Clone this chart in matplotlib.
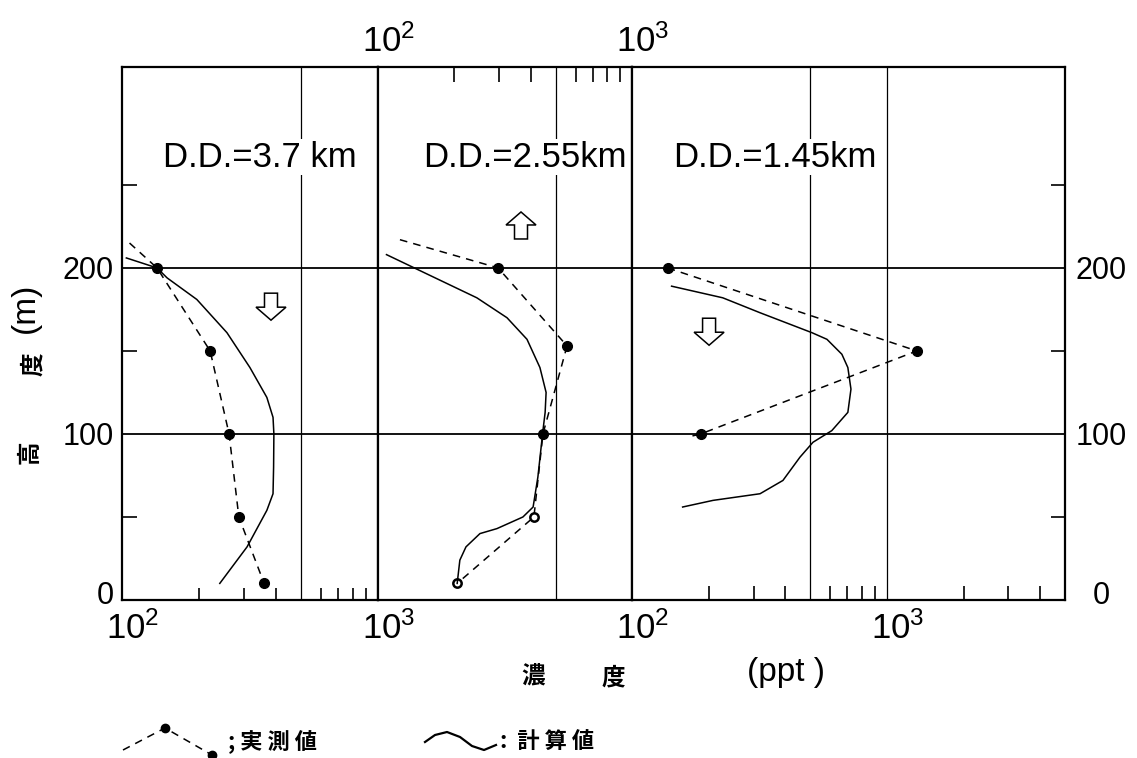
import numpy as np
import matplotlib.pyplot as plt
import matplotlib.transforms as mtransforms
from matplotlib.patches import Polygon
from matplotlib.ticker import FixedLocator, NullFormatter, NullLocator

plt.rcParams['font.family'] = ['Liberation Sans', 'Noto Sans CJK JP']
JP = ['Noto Sans CJK JP', 'DejaVu Sans']

# D.D.=3.7km  (concentration ppt, height m)
l_obs_c = [137, 221, 262, 286, 359]
l_obs_h = [200, 150, 100, 50, 10]
l_ext = (107, 215)          # dashed line runs on past the top point
l_calc_c = [104, 137, 150, 196, 257, 316, 368, 389, 392, 391, 389, 368, 308, 241]
l_calc_h = [206, 200, 194, 181, 161, 140, 122, 110, 100, 80, 64, 54, 32, 10]

# D.D.=2.55km
m_obs_c = [297, 555, 446, 411, 205]
m_obs_h = [200, 153, 100, 50, 10]
m_ext = (122, 217)
m_calc_c = [108, 245, 322, 386, 434, 459, 455, 446, 426, 408, 372, 294, 252, 222, 210, 205]
m_calc_h = [208, 182, 170, 157, 140, 125, 113, 102, 74, 56, 50, 43, 40, 32, 24, 10]

# D.D.=1.45km
r_obs_c = [138, 1311, 186]
r_obs_h = [200, 150, 100]
r_ext = (164, 98)
r_calc_c = [143, 227, 318, 508, 582, 666, 703, 723, 703, 608, 513, 456, 391, 318, 208, 158]
r_calc_h = [189, 182, 173, 161, 157, 148, 140, 127, 113, 102, 95, 86, 72, 64, 60, 56]

titles = ['D.D.=3.7 km', 'D.D.=2.55km', 'D.D.=1.45km']
dec_labels = [r'$\mathregular{10^2}$', r'$\mathregular{10^3}$']
minor_a = [200, 300, 400, 600, 700, 800, 900]
minor_b = minor_a + [2000, 3000, 4000]

W, H = 1137, 758
fig = plt.figure(figsize=(W / 100, H / 100), dpi=100)

def box(x0, x1):
    return [x0 / W, (H - 600) / H, (x1 - x0) / W, 533 / H]

ax1 = fig.add_axes(box(122, 378))
ax2 = fig.add_axes(box(378, 632))
ax3 = fig.add_axes(box(632, 1065))

def setup(ax, xmax, vlines):
    ax.set_xscale('log')
    ax.set_xlim(100, xmax)
    ax.set_ylim(0, 321)
    for s in ax.spines.values():
        s.set_linewidth(1.6)
    ax.xaxis.set_major_locator(FixedLocator([100, 1000]))
    ax.xaxis.set_minor_locator(NullLocator())
    ax.xaxis.set_minor_formatter(NullFormatter())
    ax.set_xticklabels(dec_labels)
    ax.yaxis.set_major_locator(FixedLocator([0, 100, 200]))
    ax.yaxis.set_minor_locator(FixedLocator([50, 150, 250]))
    ax.tick_params(which='both', direction='in', width=1.2, color='k')
    ax.tick_params(axis='x', which='major', length=0, labelsize=25)
    ax.tick_params(axis='y', which='major', length=0, labelsize=22)
    ax.tick_params(axis='y', which='minor', length=11,
                   left=False, right=False)
    ax.tick_params(axis='y', which='major', labelleft=False, labelright=False)
    for v in vlines:
        ax.axvline(v, color='k', lw=0.9)
    for h in [100, 200]:
        ax.axhline(h, color='k', lw=1.3)

setup(ax1, 1000, [500])
setup(ax2, 1000, [500])
setup(ax3, 5000, [500, 1000])

# left panel: bottom labels, left y axis
ax1.xaxis.set_minor_locator(FixedLocator(minor_a))
ax1.tick_params(axis='x', which='major', pad=8)
ax1.tick_params(axis='x', which='minor', length=9, top=False)
ax1.tick_params(axis='y', which='major', labelleft=True, pad=6)
ax1.tick_params(axis='y', which='minor', left=True)

# middle panel: top labels only
ax2.xaxis.tick_top()
ax2.xaxis.set_minor_locator(FixedLocator(minor_a))
ax2.tick_params(axis='x', which='major', pad=6, labeltop=True, labelbottom=False)
ax2.tick_params(axis='x', which='minor', length=11, top=True, bottom=False)

# right panel: bottom labels, right y axis
ax3.xaxis.set_minor_locator(FixedLocator(minor_b))
ax3.tick_params(axis='x', which='major', pad=8)
ax3.tick_params(axis='x', which='minor', length=10, top=False)
ax3.tick_params(axis='y', which='major', labelright=True, pad=26)
ax3.tick_params(axis='y', which='minor', right=True, length=10)
for t in ax3.get_yticklabels():
    t.set_horizontalalignment('center')

# the scan prints "10" centred on the tick, exponent to the right
shift_x = mtransforms.ScaledTranslation(0.11, 0, fig.dpi_scale_trans)
for ax in (ax1, ax2, ax3):
    for t in ax.get_xticklabels():
        t.set_transform(t.get_transform() + shift_x)
# the zero labels sit a little higher
shift_up = mtransforms.ScaledTranslation(0, 0.08, fig.dpi_scale_trans)
for ax in (ax1, ax3):
    t = ax.get_yticklabels()[0]
    t.set_transform(t.get_transform() + shift_up)

dash = dict(color='k', lw=1.1, dashes=(5, 4))
solid = dict(color='k', lw=1.1)
dot = dict(color='k', marker='o', ms=7, ls='none')

ax1.plot([l_ext[0]] + l_obs_c, [l_ext[1]] + l_obs_h, **dash)
ax1.plot(l_obs_c, l_obs_h, **dot)
ax1.plot(l_calc_c, l_calc_h, **solid)

ax2.plot([m_ext[0]] + m_obs_c, [m_ext[1]] + m_obs_h, **dash)
ax2.plot(m_obs_c[:3], m_obs_h[:3], **dot)
ax2.plot(m_obs_c[3:], m_obs_h[3:], color='k', marker='o', ms=6, mfc='white',
         mew=1.8, ls='none')
ax2.plot(m_calc_c, m_calc_h, **solid)

ax3.plot(r_obs_c + [r_ext[0]], r_obs_h + [r_ext[1]], **dash)
ax3.plot(r_obs_c, r_obs_h, **dot)
ax3.plot(r_calc_c, r_calc_h, **solid)

# D.D. labels (white box cuts the grid line)
for ax, xf, txt in zip([ax1, ax2, ax3], [0.539, 0.579, 0.329], titles):
    ax.text(xf, 0.831, txt, transform=ax.transAxes, ha='center', va='center',
            fontsize=25, zorder=5,
            bbox=dict(fc='white', ec='none', pad=1))

# open block arrows
def block_arrow(ax, xf, yf, up):
    s = -1 if up else 1
    v = [(0, 0), (0.15, 0.13), (0.065, 0.13), (0.065, 0.27),
         (-0.065, 0.27), (-0.065, 0.13), (-0.15, 0.13)]
    v = [(a, s * b) for a, b in v]
    tr = fig.dpi_scale_trans + mtransforms.ScaledTranslation(xf, yf, ax.transAxes)
    ax.add_patch(Polygon(v, closed=True, fc='white', ec='k', lw=1.1,
                         transform=tr, clip_on=False, zorder=6))

block_arrow(ax1, 0.582, 0.525, False)
block_arrow(ax2, 0.563, 0.728, True)
block_arrow(ax3, 0.178, 0.478, False)

# axis labels and legend on a pixel-coordinate overlay
ann = fig.add_axes([0, 0, 1, 1])
ann.set_xlim(0, W)
ann.set_ylim(H, 0)
ann.axis('off')
ann.patch.set_visible(False)

ann.text(30, 452, '高', family=JP, fontsize=17, fontweight='bold',
         rotation=90, ha='center', va='center')
ann.text(33, 364, '度', family=JP, fontsize=17, fontweight='bold',
         rotation=90, ha='center', va='center')
ann.text(25, 308, '(m)', fontsize=24, rotation=90, ha='center', va='center')

ann.text(533, 677, '濃', family=JP, fontsize=17, fontweight='bold',
         ha='center', va='center')
ann.text(613, 677, '度', family=JP, fontsize=17, fontweight='bold',
         ha='center', va='center')
ann.text(786, 672, '(ppt )', fontsize=24, ha='center', va='center')

leg_obs_x = [123, 165, 212]
leg_obs_y = [750, 728, 755]
leg_calc_x = [425, 435, 447, 460, 472, 484, 496]
leg_calc_y = [742, 735, 732, 737, 746, 750, 745]
ann.plot(leg_obs_x, leg_obs_y, **dash)
ann.plot(leg_obs_x[1:], leg_obs_y[1:], color='k', marker='o', ms=6, ls='none')
ann.plot(leg_calc_x, leg_calc_y, color='k', lw=1.6)
ann.text(228, 741, '; 実 測 値', family=JP, fontsize=16, fontweight='bold',
         ha='left', va='center')
ann.text(500, 741, ':  計 算 値', family=JP, fontsize=16, fontweight='bold',
         ha='left', va='center')

plt.savefig('out.png', dpi=100)
